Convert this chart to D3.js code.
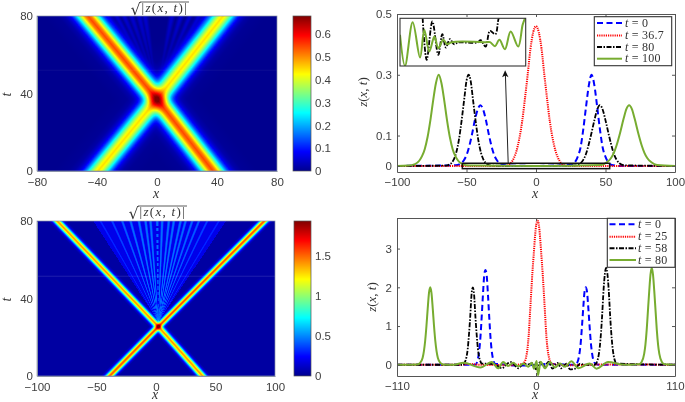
<!DOCTYPE html>
<html>
<head>
<meta charset="utf-8">
<script src="https://cdn.jsdelivr.net/npm/d3@7"></script>
<style>
  html, body { margin: 0; padding: 0; background: #fff; }
  svg { display: block; filter: blur(0.35px); }
  .tick text { font-family: "Liberation Sans", sans-serif; font-size: 11.5px; fill: #404040; }
  .math { font-family: "Liberation Serif", serif; fill: #333; }
  .math .it { font-style: italic; }
</style>
</head>
<body>
<svg id="fig" width="685" height="402"></svg>
<script>
// ---- jet colormap
const jetStops = [0, 0.125, 0.375, 0.625, 0.875, 1];
const jetColors = ["#00008f", "#0000ff", "#00ffff", "#ffff00", "#ff0000", "#800000"];

// ---- top left heatmap
const heatA_xTicks = [-80, -40, 0, 40, 80];
const heatA_tTicks = [0, 40, 80];
const heatA_barTicks = [0, 0.1, 0.2, 0.3, 0.4, 0.5, 0.6];
const heatA_max = 0.68;
const heatA_trackT = [0, 37, 80];
const heatA_riseX = [-39.3, 0, 44];     // ridge going up to the right
const heatA_fallX = [37.3, 0, -46];     // ridge going up to the left
const heatA_riseZ = 0.2;
const heatA_fallZ = 0.3;
const heatA_profileD = [0, 2, 4, 6, 8, 10, 12, 14, 16, 20, 30];
const heatA_profileV = [1, 0.93, 0.78, 0.6, 0.41, 0.25, 0.14, 0.08, 0.04, 0.012, 0];
const heatA_fanEnds = [-33, -27, -22, -17, -12, -8, 10, 16, 22, 28, 34];
const heatA_fanApex = [0, 42];
const heatA_fanLevel = 0.05;
const heatA_seamT = 52;

// ---- bottom left heatmap
const heatB_xTicks = [-100, -50, 0, 50, 100];
const heatB_tTicks = [0, 40, 80];
const heatB_barTicks = [0, 0.5, 1, 1.5];
const heatB_max = 1.933;
const heatB_trackT = [0, 25.5, 80];
const heatB_riseX = [-39, 2, 91];
const heatB_fallX = [39, 2, -83];
const heatB_riseZ = 2.4;
const heatB_fallZ = 2;
const heatB_profileD = [0, 1, 2, 3, 4, 5, 6, 8];
const heatB_profileV = [1, 0.92, 0.76, 0.52, 0.32, 0.18, 0.09, 0.02];
const heatB_fanEnds = [-46.7, -36.9, -28.4, -21.4, -14.4, -8.8, -4.6, 1, 5.2, 10.8, 15, 20.7, 24.9, 30.5, 36.1, 43.1, 52.9];
const heatB_fanLevels = [0.32, 0.37, 0.42, 0.45, 0.46, 0.46, 0.46, 0.46, 0.46, 0.46, 0.46, 0.46, 0.45, 0.44, 0.42, 0.37, 0.32];
const heatB_fanApex = [2, 28];
const heatB_fanFloor = 0.19;
const heatB_fanGaps = [32, 35, 38, 41, 44, 47, 50, 53, 56, 59, 62, 65, 68, 71, 74, 77];
const heatB_seamT = 51.5;
const rayD = [0, 0.4, 0.8, 1.2, 1.6, 2.2];
const rayV = [1, 0.92, 0.72, 0.46, 0.26, 0];

// ---- top right curves
const topX_ticks = [-100, -50, 0, 50, 100];
const topZ_ticks = [0, 0.1, 0.3, 0.5];
const topBlueX = [-100, -58, -54, -52, -50, -48, -46, -44, -42, -40, -38, -36, -34, -32, -30, -28, -26, -22, 0, 26, 28, 30, 32, 34, 36, 38, 40, 42, 44, 46, 48, 50, 52, 54, 60, 100];
const topBlueZ = [0, 0.002, 0.008, 0.018, 0.035, 0.065, 0.105, 0.15, 0.185, 0.2, 0.185, 0.15, 0.105, 0.065, 0.035, 0.018, 0.008, 0.002, 0, 0.004, 0.012, 0.03, 0.06, 0.12, 0.195, 0.265, 0.3, 0.265, 0.195, 0.12, 0.06, 0.03, 0.012, 0.004, 0, 0];
const topRedX = [-100, -22, -18, -16, -14, -12, -10, -8, -6, -4, -2, 0, 2, 4, 6, 8, 10, 12, 14, 16, 18, 22, 100];
const topRedZ = [0, 0, 0.01, 0.025, 0.05, 0.09, 0.145, 0.22, 0.3, 0.385, 0.44, 0.46, 0.44, 0.385, 0.3, 0.22, 0.145, 0.09, 0.05, 0.025, 0.01, 0, 0];
const topBlackX = [-100, -65, -61.5, -59.5, -57.5, -55.5, -53.5, -51.5, -50, -48.5, -47, -45.5, -43.5, -41.5, -39.5, -37.5, -35.5, -32, 0, 28, 32, 34, 36, 38, 39.5, 42, 44, 46, 48, 50, 52.5, 54, 56, 58, 60, 64, 100];
const topBlackZ = [0, 0.001, 0.007, 0.018, 0.042, 0.085, 0.15, 0.225, 0.28, 0.3, 0.28, 0.225, 0.15, 0.085, 0.042, 0.018, 0.007, 0.001, 0, 0.002, 0.009, 0.02, 0.04, 0.072, 0.1, 0.15, 0.185, 0.2, 0.185, 0.15, 0.1, 0.072, 0.04, 0.02, 0.009, 0.002, 0];
const topGreenX = [-100, -92, -87, -84, -82, -80, -78, -76, -74, -72, -70, -68, -66, -64, -62, -60, -58, -56, -53, -48, 0, 47, 51, 54, 56, 58, 60, 63, 65, 67, 69, 71, 74, 76, 78, 80, 83, 87, 100];
const topGreenZ = [0, 0.001, 0.006, 0.017, 0.032, 0.056, 0.095, 0.15, 0.215, 0.272, 0.3, 0.272, 0.215, 0.15, 0.095, 0.056, 0.032, 0.017, 0.006, 0.001, 0, 0.003, 0.012, 0.026, 0.043, 0.068, 0.1, 0.155, 0.187, 0.2, 0.187, 0.155, 0.1, 0.068, 0.043, 0.026, 0.012, 0.003, 0];
const topLegend = ["0", "36.7", "80", "100"];

// inset of top right panel, z in units of 1e-3
const insetBlackX = [-33.9, -30.5, -25.7, -20.7, -17.3, -14.3, -10.9, -7.5, -3.8, 12.2, 15, 19.2, 22.9, 27.4, 29.9, 31.5];
const insetBlackZ = [10.05, -7.42, 8.65, -5.33, 3.34, -2.25, 1.24, -0.85, -0.15, -0.15, 0.82, -1.83, 4.74, 3.34, 9.35, 12];
const insetGreenX = [-53, -48.8, -42.3, -36.1, -32.5, -28.3, -24, -20.7, -16.5, -13.1, -9.4, 20, 22.9, 27.1, 30.8, 35.5, 40.3, 46.7, 50.4, 52.4];
const insetGreenZ = [3.06, -9.94, 8.37, -6.44, 5.16, -3.93, 2.36, -2.53, 0.96, -0.85, 0, 0, 0, -1.7, 0.96, -2.95, 4.46, -1.83, 7.25, 10];

// ---- bottom right curves
const botX_ticks = [-110, 0, 110];
const botZ_ticks = [0, 1, 2, 3];
const botBlueX = [-110, -48, -46, -45, -44, -43, -42, -41, -40, -39, -38, -37, -36, -35, -34, -32.5, -30, -10, 0, 10, 30, 32, 33.4, 34.4, 35.4, 36.4, 37.4, 38.4, 39.4, 40.4, 41.4, 42.4, 43.4, 44.4, 45.4, 47, 50, 110];
const botBlueZ = [0, 0, 0.15, 0.35, 0.7, 1.225, 1.8, 2.3, 2.45, 2.3, 1.8, 1.225, 0.7, 0.35, 0.15, 0.03, 0.02, -0.02, 0, 0.02, 0, 0.03, 0.12, 0.29, 0.57, 1, 1.47, 1.88, 2, 1.88, 1.47, 1, 0.57, 0.29, 0.12, 0.03, 0, 0];
const botRedX = [-110, -62, -52, -45, -20, -10.8, -8.8, -7.8, -6.8, -5.8, -4.8, -3.8, -2.8, -1.8, -0.8, 0.2, 1.2, 2.2, 3.2, 4.2, 5.2, 6.2, 7.2, 8.2, 9.2, 10.2, 11.2, 13.2, 25, 45, 52, 110];
const botRedZ = [0, 0, 0.02, 0, -0.01, 0.02, 0.09, 0.2, 0.4, 0.75, 1.3, 1.86, 2.4, 2.85, 3.3, 3.62, 3.72, 3.62, 3.3, 2.85, 2.4, 1.86, 1.3, 0.75, 0.4, 0.2, 0.09, 0.02, -0.01, 0, 0.01, 0];
const botBlackX = [-110, -58, -57, -56, -55, -54, -53, -52, -51, -50, -49, -48, -47, -46, -45, -44, -43, -38, -31, -27, -23, -19.7, -14, -10, -6, -3, 0, 3, 7, 10, 13, 17, 20, 24, 27, 31, 35, 38, 42, 46.5, 47.5, 48.5, 49.5, 50.5, 51.5, 52.3, 53.5, 54.5, 55.5, 56.5, 57.5, 58.7, 59.5, 60.5, 61.5, 62.5, 63.5, 110];
const botBlackZ = [0, 0, 0.03, 0.09, 0.2, 0.42, 0.8, 1.27, 1.82, 2, 1.82, 1.27, 0.8, 0.42, 0.2, 0.09, 0.03, 0.03, -0.02, -0.09, 0.02, 0.07, -0.09, 0.03, 0.01, 0.04, -0.12, 0.06, -0.03, 0.08, -0.1, 0.05, -0.09, 0.03, -0.12, -0.1, 0.03, 0, 0, 0, 0.03, 0.1, 0.23, 0.47, 0.85, 1.25, 1.95, 2.35, 2.5, 2.35, 1.95, 1.25, 0.85, 0.47, 0.23, 0.1, 0.03, 0];
const botGreenX = [-110, -93.7, -91.7, -89.7, -88.7, -87.7, -86.7, -85.7, -84.7, -83.7, -82.7, -81.7, -80.7, -79.7, -78.7, -77.7, -75.7, -73.7, -65, -57.5, -44, -35, -30, -26, -22, -18, -14, -10, -6, -3.3, -1.6, 0.5, 1.6, 3.7, 7, 11, 15, 19, 23, 28, 33.5, 42.5, 48, 57, 70, 81.6, 83.6, 85.6, 86.6, 87.6, 88.3, 89.6, 90.6, 91.6, 92.6, 93.6, 94.9, 95.6, 96.6, 97.6, 99.6, 101.6, 110];
const botGreenZ = [0, 0.01, 0.05, 0.18, 0.35, 0.62, 1, 1.45, 1.85, 2, 1.85, 1.45, 1, 0.62, 0.35, 0.18, 0.05, 0.01, 0, 0.05, -0.07, 0.07, -0.09, 0.07, -0.03, 0.05, -0.04, 0.03, -0.05, 0.05, -0.1, 0.1, -0.27, 0.08, -0.09, 0.07, -0.07, 0.03, -0.05, 0.09, -0.09, 0.03, -0.1, 0.07, 0, 0.015, 0.07, 0.28, 0.52, 0.9, 1.25, 1.9, 2.33, 2.5, 2.33, 1.9, 1.25, 0.9, 0.52, 0.28, 0.07, 0.015, 0];
const botLegend = ["0", "25", "58", "80"];

// ---- shared styles
const blueStyle = {color: "#0000ff", dash: "6,3.5"};
const redStyle = {color: "#ff0000", dash: "1.2,1"};
const blackStyle = {color: "#000000", dash: "5,1.5,1.5,1.5"};
const greenStyle = {color: "#77ac30", dash: null};
const lineStyles = [blueStyle, redStyle, blackStyle, greenStyle];

const svg = d3.select("#fig");
const defs = svg.append("defs");
defs.append("filter").attr("id", "soft")
    .attr("x", "-2%").attr("y", "-2%").attr("width", "104%").attr("height", "104%")
    .append("feGaussianBlur").attr("stdDeviation", 0.6);

function clipRect(id, x, y, w, h) {
    defs.append("clipPath").attr("id", id).append("rect")
        .attr("x", x).attr("y", y).attr("width", w).attr("height", h);
}

function mathText(parent, x, y, size, parts, anchor) {
    const t = parent.append("text").attr("class", "math")
        .attr("x", x).attr("y", y)
        .attr("font-size", size)
        .attr("text-anchor", anchor || "start");
    parts.forEach(function (p) {
        t.append("tspan").attr("class", p[1] ? "it" : null).text(p[0]);
    });
    return t;
}

function title(x, y, lineY) {
    svg.append("text").attr("x", x + 3.5).attr("y", y + 2.5)
        .attr("font-family", "DejaVu Sans").attr("font-size", 16).attr("fill", "#333").text("√");
    mathText(svg, x + 14.5, y, 13, [["|", 0], ["z", 1], ["(", 0], ["x", 1], [", ", 0], ["t", 1], [")", 0], ["|", 0]])
        .attr("letter-spacing", 1.3);
    svg.append("line").attr("x1", x + 13).attr("x2", x + 62)
        .attr("y1", lineY).attr("y2", lineY).attr("stroke", "#333").attr("stroke-width", 0.8);
}

// value at one cell comes from the ridge tracks and cross section read above
function heatField(cfg) {
    const rise = d3.scaleLinear().domain(cfg.trackT).range(cfg.riseX);
    const fall = d3.scaleLinear().domain(cfg.trackT).range(cfg.fallX);
    const profile = d3.scaleLinear().domain(cfg.profileD).range(cfg.profileV).clamp(true);
    const ray = d3.scaleLinear().domain(rayD).range(rayV).clamp(true);

    return function (x, t) {
        const p1 = profile(Math.abs(x - rise(t)));
        const p2 = profile(Math.abs(x - fall(t)));
        let fan = 0;
        if (t > cfg.fanApex[1]) {
            const s = (t - cfg.fanApex[1]) / (80 - cfg.fanApex[1]);
            const first = cfg.fanEnds[0], last = cfg.fanEnds[cfg.fanEnds.length - 1];
            if (cfg.fanFloor && x > cfg.fanApex[0] + (first - 6 - cfg.fanApex[0]) * s && x < cfg.fanApex[0] + (last + 6 - cfg.fanApex[0]) * s) {
                fan = cfg.fanFloor;
            }
            cfg.fanEnds.forEach(function (end, i) {
                const rx = cfg.fanApex[0] + (end - cfg.fanApex[0]) * s;
                let level = cfg.fanLevels ? cfg.fanLevels[i] : cfg.fanLevel * s;
                if (cfg.fanGaps && Math.abs(end - 1) < 0.1 && cfg.fanGaps.some(function (g) { return Math.abs(g - t) < 0.6; })) {
                    level = cfg.fanFloor;
                }
                fan = Math.max(fan, level * ray(Math.abs(x - rx) / (0.25 + 1.05 * s)));
            });
        }
        return Math.sqrt(cfg.riseZ * p1 * p1 + cfg.fallZ * p2 * p2 + fan * fan);
    };
}

function drawHeat(cfg) {
    const cols = d3.range(cfg.left, cfg.right);
    const rows = d3.range(cfg.top, cfg.bottom);
    const x = d3.scaleLinear().domain(cfg.xDomain).range([cfg.left, cfg.right]);
    const t = d3.scaleLinear().domain([0, 80]).range([cfg.bottom, cfg.top]);
    const color = d3.scaleLinear().domain(jetStops.map(function (s) { return s * cfg.max; }))
        .range(jetColors).clamp(true);
    const field = heatField(cfg);

    const cells = [];
    rows.forEach(function (py) {
        cols.forEach(function (px) {
            cells.push({px: px, py: py, v: field(x.invert(px + 0.5), t.invert(py + 0.5))});
        });
    });

    clipRect(cfg.id, cfg.left, cfg.top, cfg.right - cfg.left, cfg.bottom - cfg.top);
    const holder = svg.append("g").attr("clip-path", "url(#" + cfg.id + ")");
    holder.append("rect").attr("x", cfg.left).attr("y", cfg.top)
        .attr("width", cfg.right - cfg.left).attr("height", cfg.bottom - cfg.top)
        .attr("fill", jetColors[0]);
    holder.append("g").attr("filter", "url(#soft)")
        .selectAll("rect").data(cells).join("rect")
        .attr("x", function (d) { return d.px; })
        .attr("y", function (d) { return d.py; })
        .attr("width", 1.2).attr("height", 1.2)
        .attr("shape-rendering", "crispEdges")
        .attr("fill", function (d) { return color(d.v); });
    holder.append("line").attr("x1", cfg.left).attr("x2", cfg.right)
        .attr("y1", t(cfg.seamT)).attr("y2", t(cfg.seamT))
        .attr("stroke", "#fff").attr("stroke-opacity", cfg.seamOpacity);

    const xAxis = d3.axisBottom(x).tickValues(cfg.xTicks).tickSize(0).tickPadding(6.5);
    const tAxis = d3.axisLeft(t).tickValues(cfg.tTicks).tickSize(0).tickPadding(4);
    svg.append("g").attr("transform", "translate(0," + cfg.bottom + ")").call(xAxis)
        .select(".domain").attr("stroke", "#8a93a8");
    svg.append("g").attr("transform", "translate(" + cfg.left + ",0)").call(tAxis)
        .select(".domain").attr("stroke", "#8a93a8");
    svg.append("rect").attr("x", cfg.left).attr("y", cfg.top)
        .attr("width", cfg.right - cfg.left).attr("height", cfg.bottom - cfg.top)
        .attr("fill", "none").attr("stroke", "#8a93a8").attr("stroke-width", 0.7);

    mathText(svg, (cfg.left + cfg.right) / 2 - 1, cfg.xLabelY, 14, [["x", 1]], "middle");
    const ty = (cfg.top + cfg.bottom) / 2 + 1;
    mathText(svg, 11, ty, 14, [["t", 1]], "middle")
        .attr("transform", "rotate(-90 11 " + ty + ")");

    // colorbar
    const bar = d3.scaleLinear().domain([0, cfg.max]).range([cfg.bottom, cfg.top]);
    svg.append("g").selectAll("rect").data(d3.range(cfg.top, cfg.bottom)).join("rect")
        .attr("x", cfg.barLeft).attr("y", function (d) { return d; })
        .attr("width", cfg.barRight - cfg.barLeft).attr("height", 1.2)
        .attr("shape-rendering", "crispEdges")
        .attr("fill", function (d) { return color(bar.invert(d + 0.5)); });
    svg.append("rect").attr("x", cfg.barLeft).attr("y", cfg.top)
        .attr("width", cfg.barRight - cfg.barLeft).attr("height", cfg.bottom - cfg.top)
        .attr("fill", "none").attr("stroke", "#555").attr("stroke-width", 0.7);
    const barAxis = d3.axisRight(bar).tickValues(cfg.barTicks).tickSize(0).tickPadding(4)
        .tickFormat(d3.format("~g"));
    svg.append("g").attr("transform", "translate(" + cfg.barRight + ",0)").call(barAxis)
        .select(".domain").remove();
}

function drawCurve(parent, x, y, xs, zs, style, curve, width) {
    const line = d3.line().x(function (d) { return x(d[0]); }).y(function (d) { return y(d[1]); }).curve(curve);
    parent.append("path").datum(d3.zip(xs, zs))
        .attr("d", line)
        .attr("fill", "none")
        .attr("stroke", style.color)
        .attr("stroke-width", width)
        .attr("stroke-dasharray", style.dash);
}

function drawFrame(cfg, x, y) {
    const bottom = d3.axisBottom(x).tickValues(cfg.xTicks).tickSizeInner(-3).tickSizeOuter(0).tickPadding(6).tickFormat(d3.format("d"));
    const left = d3.axisLeft(y).tickValues(cfg.zTicks).tickSizeInner(-3).tickSizeOuter(0).tickPadding(5).tickFormat(d3.format("~g"));
    const top = d3.axisTop(x).tickValues(cfg.xTicks).tickSizeInner(-3).tickSizeOuter(0).tickFormat("");
    const right = d3.axisRight(y).tickValues(cfg.zTicks).tickSizeInner(-3).tickSizeOuter(0).tickFormat("");
    [[bottom, 0, cfg.bottom], [left, cfg.left, 0], [top, 0, cfg.top], [right, cfg.right, 0]].forEach(function (a) {
        const g = svg.append("g").attr("transform", "translate(" + a[1] + "," + a[2] + ")");
        g.call(a[0]);
        g.selectAll(".domain,.tick line").attr("stroke", "#555");
    });
}

function drawLegend(cfg, labels) {
    const g = svg.append("g");
    g.append("rect").attr("x", cfg.x).attr("y", cfg.y).attr("width", cfg.w).attr("height", cfg.h)
        .attr("fill", "#fff").attr("stroke", "#333").attr("stroke-width", 1.1);
    labels.forEach(function (lab, i) {
        const yy = cfg.rows[i];
        g.append("line").attr("x1", cfg.x1).attr("x2", cfg.x2).attr("y1", yy).attr("y2", yy)
            .attr("stroke", lineStyles[i].color).attr("stroke-width", 2)
            .attr("stroke-dasharray", lineStyles[i].dash);
        mathText(g, cfg.tx, yy + 3.5, 12, [["t", 1], [" = " + lab, 0]]).attr("letter-spacing", 0.25);
    });
}

function zLabel(x, y) {
    mathText(svg, x, y, 13, [["z", 1], ["(", 0], ["x", 1], [", ", 0], ["t", 1], [")", 0]], "middle")
        .attr("transform", "rotate(-90 " + x + " " + y + ")");
}

// ---- panels
function drawTopLeft() {
    drawHeat({
        id: "clipA", left: 37, right: 277, top: 16, bottom: 171, xDomain: [-80, 80],
        barLeft: 293, barRight: 311, max: heatA_max,
        xTicks: heatA_xTicks, tTicks: heatA_tTicks, barTicks: heatA_barTicks, xLabelY: 198,
        trackT: heatA_trackT, riseX: heatA_riseX, fallX: heatA_fallX, riseZ: heatA_riseZ, fallZ: heatA_fallZ,
        profileD: heatA_profileD, profileV: heatA_profileV,
        fanEnds: heatA_fanEnds, fanApex: heatA_fanApex, fanLevel: heatA_fanLevel,
        seamT: heatA_seamT, seamOpacity: 0.05
    });
    title(127, 12, 2);
}

function drawBottomLeft() {
    drawHeat({
        id: "clipB", left: 37, right: 275, top: 221, bottom: 376, xDomain: [-100, 100],
        barLeft: 294, barRight: 311, max: heatB_max,
        xTicks: heatB_xTicks, tTicks: heatB_tTicks, barTicks: heatB_barTicks, xLabelY: 399,
        trackT: heatB_trackT, riseX: heatB_riseX, fallX: heatB_fallX, riseZ: heatB_riseZ, fallZ: heatB_fallZ,
        profileD: heatB_profileD, profileV: heatB_profileV,
        fanEnds: heatB_fanEnds, fanLevels: heatB_fanLevels, fanApex: heatB_fanApex, fanFloor: heatB_fanFloor, fanGaps: heatB_fanGaps,
        seamT: heatB_seamT, seamOpacity: 0.12
    });
    title(125, 216, 206);
}

function drawTopRight() {
    const cfg = {left: 397, right: 675, top: 14, bottom: 172, xTicks: topX_ticks, zTicks: topZ_ticks};
    const x = d3.scaleLinear().domain([-100, 100]).range([cfg.left, cfg.right]);
    const y = d3.scaleLinear().domain([-0.02, 0.5]).range([cfg.bottom, cfg.top]);

    clipRect("clipC", cfg.left, cfg.top, cfg.right - cfg.left, cfg.bottom - cfg.top);
    const plot = svg.append("g").attr("clip-path", "url(#clipC)");
    drawCurve(plot, x, y, topBlueX, topBlueZ, blueStyle, d3.curveMonotoneX, 2);
    drawCurve(plot, x, y, topRedX, topRedZ, redStyle, d3.curveMonotoneX, 2);
    drawCurve(plot, x, y, topBlackX, topBlackZ, blackStyle, d3.curveMonotoneX, 1.8);
    drawCurve(plot, x, y, topGreenX, topGreenZ, greenStyle, d3.curveMonotoneX, 2);

    // zoom box and arrow
    svg.append("rect").attr("x", x(-53)).attr("y", y(0.0088))
        .attr("width", x(53) - x(-53)).attr("height", y(-0.009) - y(0.0088))
        .attr("fill", "none").attr("stroke", "#111").attr("stroke-width", 1.5);
    svg.append("line").attr("x1", x(-20)).attr("y1", y(0.009)).attr("x2", x(-22)).attr("y2", y(0.3))
        .attr("stroke", "#222").attr("stroke-width", 1);
    svg.append("path")
        .attr("d", d3.line()([[x(-22.2), y(0.315)], [x(-19.8), y(0.292)], [x(-22), y(0.298)], [x(-24.4), y(0.292)]]))
        .attr("fill", "#111");

    drawFrame(cfg, x, y);
    mathText(svg, 535, 198, 14, [["x", 1]], "middle");
    zLabel(367, 92);

    // inset
    const ix = d3.scaleLinear().domain([-53, 53]).range([400, 525.7]);
    const iy = d3.scaleLinear().domain([-10, 10]).range([66, 18.3]);
    clipRect("clipInset", 400, 18.3, 125.7, 47.7);
    svg.append("rect").attr("x", 400).attr("y", 18.3).attr("width", 125.7).attr("height", 47.7).attr("fill", "#fff");
    const inset = svg.append("g").attr("clip-path", "url(#clipInset)");
    drawCurve(inset, ix, iy, insetBlackX, insetBlackZ, blackStyle, d3.curveCatmullRom, 1.8);
    drawCurve(inset, ix, iy, insetGreenX, insetGreenZ, greenStyle, d3.curveCatmullRom, 2);
    svg.append("rect").attr("x", 400).attr("y", 18.3).attr("width", 125.7).attr("height", 47.7)
        .attr("fill", "none").attr("stroke", "#333").attr("stroke-width", 1.1);

    drawLegend({x: 594.3, y: 16.7, w: 77.4, h: 49, x1: 597, x2: 622, tx: 625, rows: [23, 35.5, 47, 58.7]}, topLegend);
}

function drawBottomRight() {
    const cfg = {left: 397, right: 675, top: 218, bottom: 376, xTicks: botX_ticks, zTicks: botZ_ticks};
    const x = d3.scaleLinear().domain([-110, 110]).range([cfg.left, cfg.right]);
    const y = d3.scaleLinear().domain([-0.29, 3.79]).range([cfg.bottom, cfg.top]);

    clipRect("clipD", cfg.left, cfg.top, cfg.right - cfg.left, cfg.bottom - cfg.top);
    const plot = svg.append("g").attr("clip-path", "url(#clipD)");
    drawCurve(plot, x, y, botBlueX, botBlueZ, blueStyle, d3.curveMonotoneX, 2);
    drawCurve(plot, x, y, botRedX, botRedZ, redStyle, d3.curveMonotoneX, 2);
    drawCurve(plot, x, y, botBlackX, botBlackZ, blackStyle, d3.curveMonotoneX, 1.8);
    drawCurve(plot, x, y, botGreenX, botGreenZ, greenStyle, d3.curveMonotoneX, 2);

    drawFrame(cfg, x, y);
    mathText(svg, 535, 399, 14, [["x", 1]], "middle");
    zLabel(376, 297);

    drawLegend({x: 607.3, y: 218.3, w: 67.7, h: 49, x1: 609.5, x2: 636, tx: 638, rows: [224.3, 236.7, 248.3, 260]}, botLegend);
}

drawTopLeft();
drawBottomLeft();
drawTopRight();
drawBottomRight();
</script>
</body>
</html>
